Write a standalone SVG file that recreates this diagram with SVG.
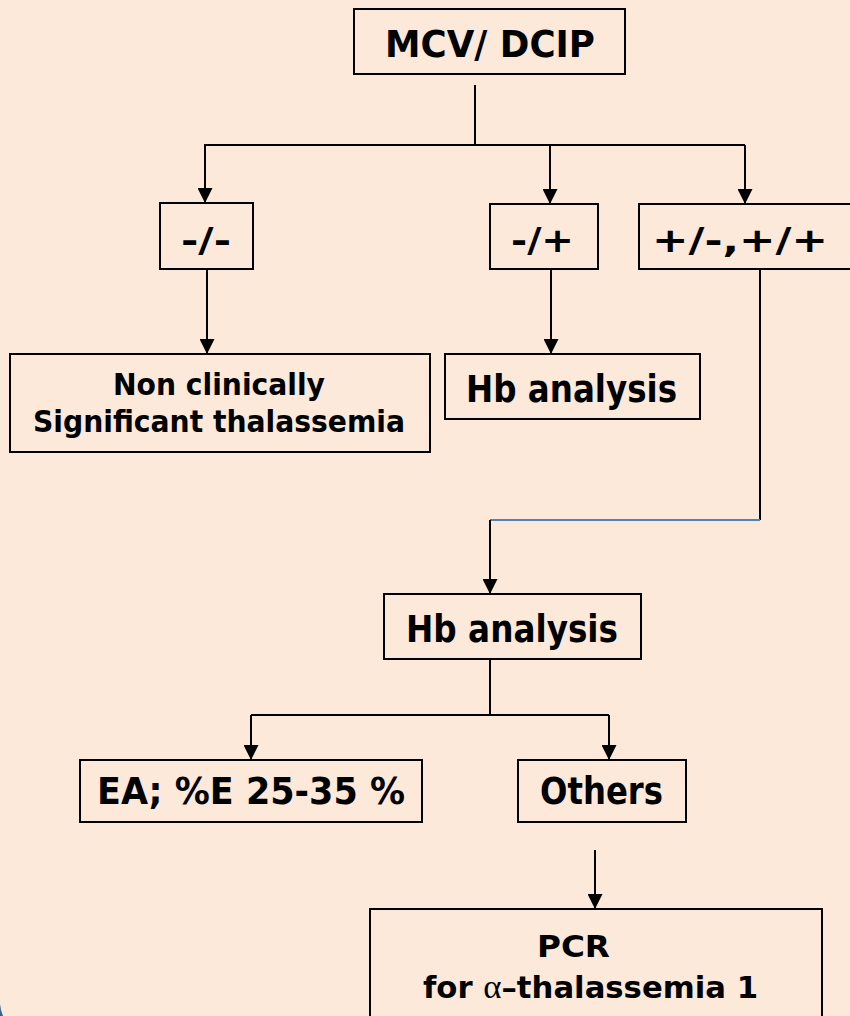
<svg xmlns="http://www.w3.org/2000/svg" width="850" height="1016" viewBox="0 0 850 1016">
<style>
.bg{fill:#FCE9DA}
.box{fill:#FCE9DA;stroke:#000;stroke-width:2}
.ln{fill:none;stroke:#000;stroke-width:2}
.ar{fill:none;stroke:#000;stroke-width:2;marker-end:url(#ah)}
.t{font-family:"DejaVu Sans","Liberation Sans",sans-serif;font-weight:bold;fill:#000}
.big{font-size:37px}
.mid{font-size:34px}
.sm{font-size:30px}
</style>
<defs>
<marker id="ah" markerUnits="userSpaceOnUse" markerWidth="16" markerHeight="15" refX="15" refY="7.5" orient="auto">
<path d="M0,0 L15,7.5 L0,15 Z" fill="#000"/>
</marker>
</defs>
<rect class="bg" x="0" y="0" width="850" height="1016"/>
<path d="M0,1002 L0,1016 L3,1016 A40,40 0 0 1 0,1004 Z" fill="#3A6191"/>

<g id="connectors">
<path class="ln" d="M475,85 V145"/>
<path class="ln" d="M204,145 H745"/>
<path class="ar" d="M205,145 V203"/>
<path class="ar" d="M550,145 V204"/>
<path class="ar" d="M745,145 V204"/>
<path class="ar" d="M207,269 V354"/>
<path class="ar" d="M551,269 V354"/>
<path class="ln" d="M760,267 V520"/>
<path d="M490,520 H760" fill="none" stroke="#4F81BD" stroke-width="2"/>
<path class="ar" d="M490,520 V594"/>
<path class="ln" d="M490,656 V715"/>
<path class="ln" d="M251,715 H609"/>
<path class="ar" d="M251,715 V760"/>
<path class="ar" d="M609,715 V760"/>
<path class="ar" d="M595,850 V909"/>
</g>

<g id="mcv">
<rect class="box" x="354" y="9" width="271" height="65"/>
<text class="t big" x="385" y="57" textLength="210" lengthAdjust="spacingAndGlyphs">MCV/ DCIP</text>
</g>
<g id="mm">
<rect class="box" x="160" y="203" width="93" height="66"/>
<text class="t mid" x="181" y="252" textLength="50" lengthAdjust="spacingAndGlyphs">-/-</text>
</g>
<g id="mp">
<rect class="box" x="490" y="204" width="108" height="65"/>
<text class="t mid" x="511" y="252" textLength="63" lengthAdjust="spacingAndGlyphs">-/+</text>
</g>
<g id="pp">
<rect class="box" x="639" y="204" width="240" height="65"/>
<text class="t mid" x="652" y="252" textLength="176" lengthAdjust="spacingAndGlyphs">+/-,+/+</text>
</g>
<g id="nonclin">
<rect class="box" x="10" y="354" width="420" height="98"/>
<text class="t sm" x="113" y="395" textLength="212" lengthAdjust="spacingAndGlyphs">Non clinically</text>
<text class="t sm" x="33" y="432" textLength="372" lengthAdjust="spacingAndGlyphs">Significant thalassemia</text>
</g>
<g id="hb1">
<rect class="box" x="445" y="354" width="255" height="65"/>
<text class="t big" x="466" y="402" textLength="211" lengthAdjust="spacingAndGlyphs">Hb analysis</text>
</g>
<g id="hb2">
<rect class="box" x="384" y="594" width="257" height="65"/>
<text class="t big" x="406" y="642" textLength="212" lengthAdjust="spacingAndGlyphs">Hb analysis</text>
</g>
<g id="ea">
<rect class="box" x="80" y="760" width="342" height="62"/>
<text class="t big" x="97" y="804" textLength="308" lengthAdjust="spacingAndGlyphs">EA; %E 25-35 %</text>
</g>
<g id="others">
<rect class="box" x="518" y="760" width="168" height="62"/>
<text class="t big" x="540" y="804" textLength="123" lengthAdjust="spacingAndGlyphs">Others</text>
</g>
<g id="pcr">
<rect class="box" x="370" y="909" width="452" height="130"/>
<text class="t sm" x="537" y="957" textLength="73" lengthAdjust="spacingAndGlyphs">PCR</text>
<text class="t sm" x="423" y="998" textLength="335" lengthAdjust="spacingAndGlyphs">for <tspan font-family="'Liberation Serif',serif" font-weight="normal" font-size="34px">α</tspan>–thalassemia 1</text>
</g>
</svg>
